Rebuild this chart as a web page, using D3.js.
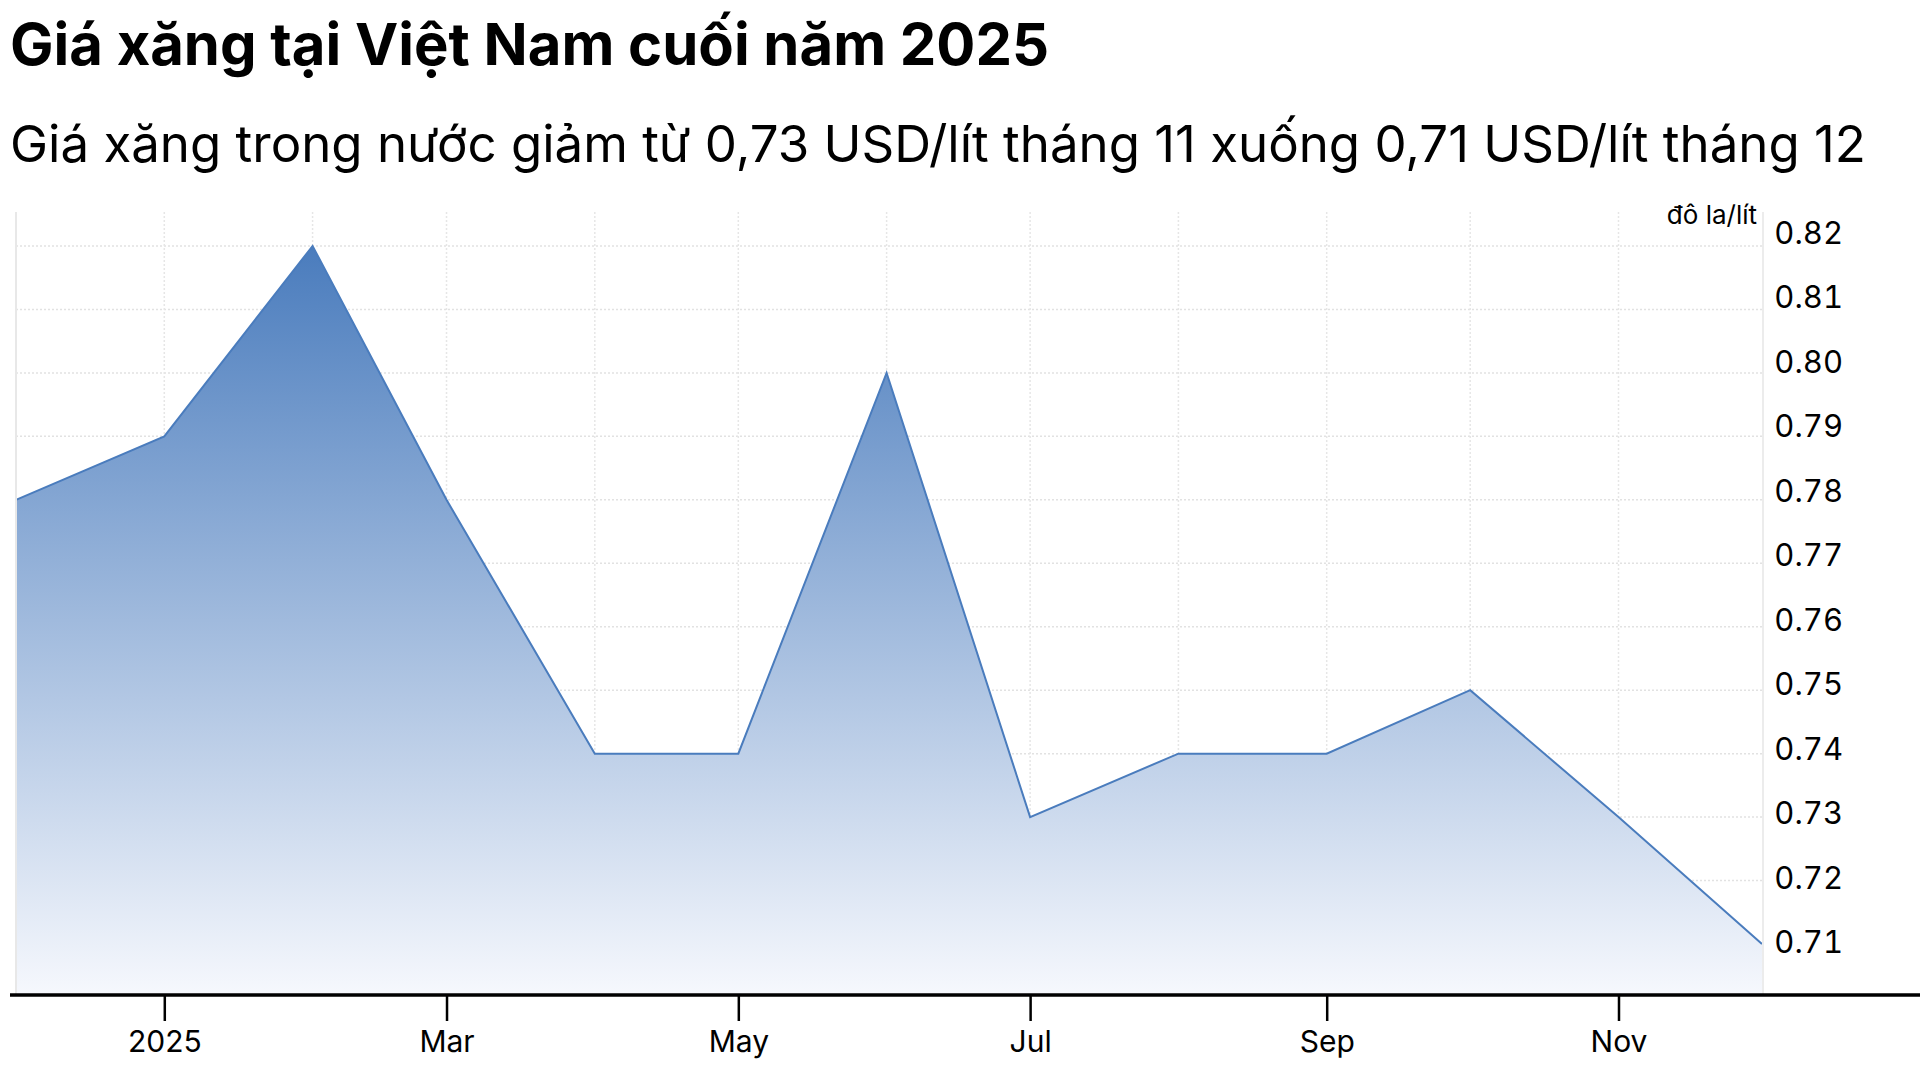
<!DOCTYPE html>
<html>
<head>
<meta charset="utf-8">
<script src="https://cdn.jsdelivr.net/npm/d3@7"></script>
<style>
  html, body { margin: 0; padding: 0; background: #fff; }
  svg { display: block; font-family: Inter, "Noto Sans", sans-serif; }
  .y-label { font-variant-numeric: tabular-nums; }
</style>
</head>
<body>
<div class="chart"></div>
<script>
// monthly retail price, USD per litre
const months = ["2024-12-01", "2025-01-01", "2025-02-01", "2025-03-01", "2025-04-01",
    "2025-05-01", "2025-06-01", "2025-07-01", "2025-08-01", "2025-09-01",
    "2025-10-01", "2025-11-01", "2025-12-01"];
const prices = [0.78, 0.79, 0.82, 0.78, 0.74, 0.74, 0.80, 0.73, 0.74, 0.74, 0.75, 0.73, 0.71];

const yTicks = [0.71, 0.72, 0.73, 0.74, 0.75, 0.76, 0.77, 0.78, 0.79, 0.80, 0.81, 0.82];
const xTickDates = ["2025-01-01", "2025-03-01", "2025-05-01", "2025-07-01", "2025-09-01", "2025-11-01"];
const xTickLabels = ["2025", "Mar", "May", "Jul", "Sep", "Nov"];

const title = "Giá xăng tại Việt Nam cuối năm 2025";
const subtitle = "Giá xăng trong nước giảm từ 0,73 USD/lít tháng 11 xuống 0,71 USD/lít tháng 12";
const unit = "đô la/lít";

const width = 1920;
const height = 1080;
const plotLeft = 16, plotRight = 1763, plotTop = 212, plotBottom = 995;
const blue = "#4a7cbd";

const parse = d3.utcParse("%Y-%m-%d");
const data = months.map((m, i) => ({date: parse(m), value: prices[i]}));

const svg = d3.select(".chart").append("svg")
    .attr("width", width)
    .attr("height", height);

const x = d3.scaleUtc()
    .domain(d3.extent(data, d => d.date))
    .range([plotLeft, 1762]);

const y = d3.scaleLinear()
    .domain([0.71, 0.82])
    .range([944, 246]);

// the right-hand labels are spread a little wider than the grid
const yLabel = d3.scaleLinear()
    .domain([0.71, 0.82])
    .range([953, 244]);

// titles
svg.append("text")
    .attr("x", 10).attr("y", 65)
    .style("font-size", "58px").style("font-weight", 700)
    .text(title);

svg.append("text")
    .attr("x", 10).attr("y", 162)
    .style("font-size", "51px").style("font-weight", 400)
    .text(subtitle);

// gradient for the area
const grad = svg.append("defs").append("linearGradient")
    .attr("id", "fillGrad")
    .attr("gradientUnits", "userSpaceOnUse")
    .attr("x1", 0).attr("x2", 0)
    .attr("y1", y(d3.max(prices))).attr("y2", plotBottom);
grad.append("stop").attr("offset", 0).attr("stop-color", "#4a7cbd");
grad.append("stop").attr("offset", 1).attr("stop-color", "#f6f8fd");

// grid
let grid = svg.append("g").classed("grid", true);
grid.selectAll("line.h")
    .data(yTicks)
    .join("line")
    .attr("x1", plotLeft).attr("x2", plotRight)
    .attr("y1", d => y(d)).attr("y2", d => y(d))
    .attr("stroke", "#e2e2e2")
    .attr("stroke-width", 1.5)
    .attr("stroke-dasharray", "2,2");

grid.selectAll("line.v")
    .data(data.slice(1, -1))
    .join("line")
    .attr("x1", d => x(d.date)).attr("x2", d => x(d.date))
    .attr("y1", plotTop).attr("y2", plotBottom)
    .attr("stroke", "#e6e6e6")
    .attr("stroke-width", 1.5)
    .attr("stroke-dasharray", "2,2");

// area + line
const area = d3.area()
    .x(d => x(d.date))
    .y0(plotBottom)
    .y1(d => y(d.value));

const line = d3.line()
    .x(d => x(d.date))
    .y(d => y(d.value));

svg.append("path")
    .datum(data)
    .attr("d", area)
    .attr("fill", "url(#fillGrad)");

svg.append("path")
    .datum(data)
    .attr("d", line)
    .attr("fill", "none")
    .attr("stroke", blue)
    .attr("stroke-width", 2)
    .attr("stroke-linejoin", "miter");

// plot borders left and right
svg.append("line")
    .attr("x1", plotLeft).attr("x2", plotLeft)
    .attr("y1", plotTop).attr("y2", plotBottom)
    .attr("stroke", "#e8e8e8").attr("stroke-width", 2);
svg.append("line")
    .attr("x1", plotRight).attr("x2", plotRight)
    .attr("y1", plotTop).attr("y2", plotBottom)
    .attr("stroke", "#ececec").attr("stroke-width", 2);

// y labels on the right
svg.append("g")
    .selectAll("text")
    .data(yTicks)
    .join("text")
    .classed("y-label", true)
    .attr("x", 1843)
    .attr("y", d => yLabel(d))
    .attr("text-anchor", "end")
    .style("font-size", "31px")
    .text(d => d3.format(".2f")(d));

svg.append("text")
    .attr("x", 1757).attr("y", 224)
    .attr("text-anchor", "end")
    .style("font-size", "26px")
    .text(unit);

// x axis
const xAxis = d3.axisBottom(x)
    .tickValues(xTickDates.map(parse))
    .tickFormat((d, i) => xTickLabels[i])
    .tickSize(26)
    .tickSizeOuter(0)
    .tickPadding(10);

const xg = svg.append("g")
    .attr("transform", `translate(0,${plotBottom})`)
    .call(xAxis);
xg.select(".domain").remove();
xg.selectAll(".tick line").attr("stroke", "#000").attr("stroke-width", 2.5);
xg.selectAll(".tick text")
    .attr("fill", "#000")
    .style("font-family", "Inter, sans-serif")
    .style("font-size", "30px");

svg.append("line")
    .attr("x1", 10).attr("x2", width)
    .attr("y1", plotBottom).attr("y2", plotBottom)
    .attr("stroke", "#000").attr("stroke-width", 3.5);
</script>
</body>
</html>
